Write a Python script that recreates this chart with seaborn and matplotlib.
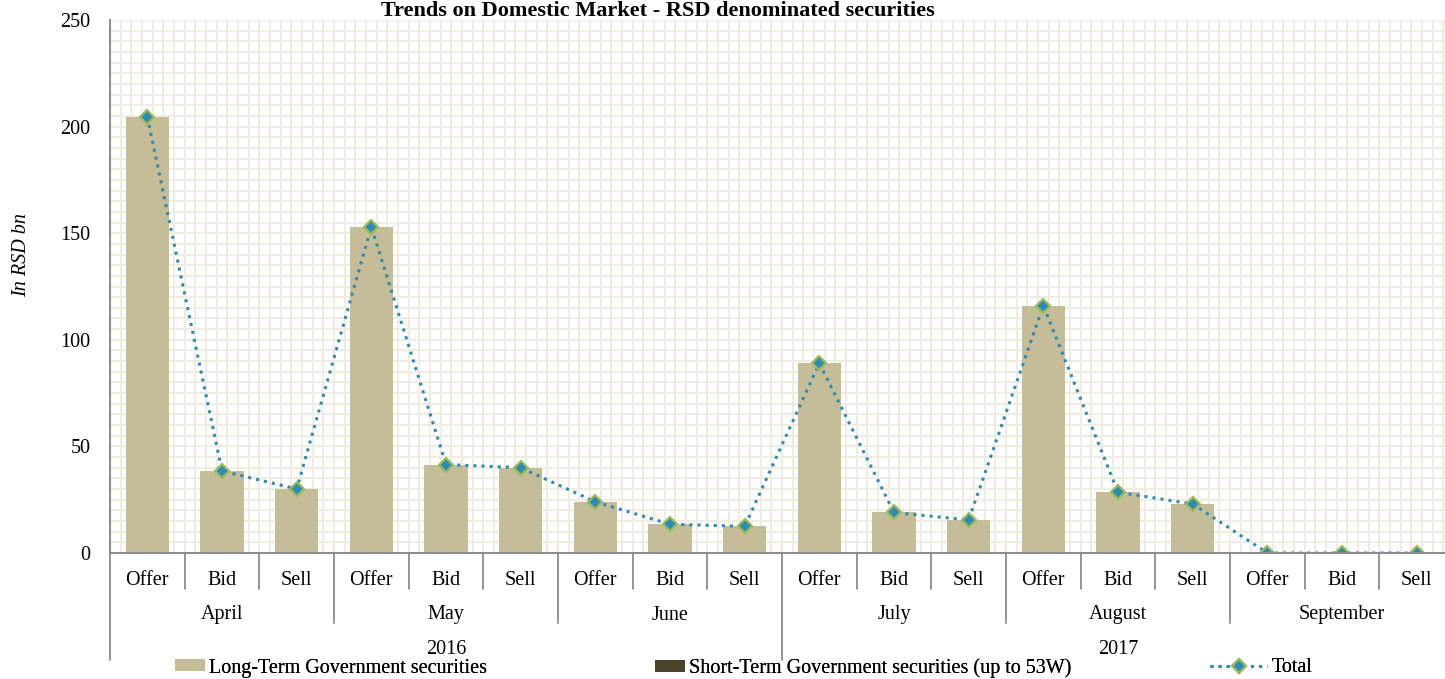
import numpy as np
import pandas as pd
import matplotlib
matplotlib.use("Agg")
import matplotlib.pyplot as plt
import matplotlib.transforms as mtransforms
from matplotlib.ticker import MultipleLocator, FixedLocator
from matplotlib.patches import Patch
from matplotlib.lines import Line2D
import seaborn as sns

# ---------------- data ----------------
years = ["2016", "2016", "2016", "2017", "2017", "2017"]
months = ["April", "May", "June", "July", "August", "September"]
kinds = ["Offer", "Bid", "Sell"]
long_term = [204.5, 38.5, 30.0,
             153.0, 41.5, 40.0,
             24.0, 13.5, 12.5,
             89.0, 19.0, 15.5,
             116.0, 28.5, 23.0,
             0.0, 0.0, 0.0]
short_term = [0.0] * 18
total = [204.5, 38.5, 30.0,
         153.0, 41.5, 40.0,
         24.0, 13.5, 12.5,
         89.0, 19.0, 15.5,
         116.0, 28.5, 23.0,
         0.0, 0.0, 0.0]
title = "Trends on Domestic Market - RSD denominated securities"
ylabel = "In RSD bn"
legend_labels = ["Long-Term Government securities",
                 "Short-Term Government securities (up to 53W)",
                 "Total"]

slot_month = [m for m in months for _ in kinds]
slot_year = [y for y in years for _ in kinds]
slot_kind = kinds * len(months)
slots = [f"{m} {k}" for m, k in zip(slot_month, slot_kind)]
df = pd.DataFrame({
    "slot": slots, "month": slot_month, "year": slot_year, "kind": slot_kind,
    "long": long_term, "short": short_term, "total": total,
})
df["pos"] = np.arange(len(df))

# ---------------- style ----------------
sns.set_theme(style="white")
plt.rcParams["font.family"] = ["Liberation Serif", "DejaVu Serif"]
plt.rcParams["font.size"] = 14.5
plt.rcParams["text.color"] = "black"
plt.rcParams["xtick.color"] = "black"
plt.rcParams["ytick.color"] = "black"
plt.rcParams["axes.labelcolor"] = "black"

FS = 14.5
BAR = "#C4BD97"
DARK = "#4A452A"
LINE = "#2E8BB3"
EDGE = "#9BBB59"
GRID = "#EFEDE3"
AXC = "#8C8C8C"

W, H = 1445, 679
fig = plt.figure(figsize=(W / 100, H / 100), dpi=100)
ax_l, ax_r, ax_t, ax_b = 110, 1454, 20, 553
ax = fig.add_axes([ax_l / W, 1 - ax_b / H, (ax_r - ax_l) / W, (ax_b - ax_t) / H])

sns.barplot(data=df, x="slot", y="long", order=slots, color=BAR, saturation=1,
            width=0.58, linewidth=0, ax=ax, label=legend_labels[0], zorder=2)
sns.barplot(data=df, x="slot", y="short", order=slots, color=DARK, saturation=1,
            width=0.58, linewidth=0, ax=ax, label=legend_labels[1], zorder=2)
sns.lineplot(data=df, x="pos", y="total", ax=ax, color=LINE, linestyle=":",
             linewidth=2.2, marker="D", markersize=7, markerfacecolor=LINE,
             markeredgecolor=EDGE, markeredgewidth=1.6, label=legend_labels[2],
             zorder=4)
if ax.get_legend():
    ax.get_legend().remove()

n = len(slots)
ax.set_xlim(-0.5, n - 0.5)
ax.set_ylim(0, 250)

# grid pattern
ax.set_axisbelow(True)
ax.yaxis.set_major_locator(MultipleLocator(50))
ax.yaxis.set_minor_locator(MultipleLocator(5))
ax.xaxis.set_minor_locator(FixedLocator(-0.5 + np.arange(n * 7 + 1) / 7))
ax.grid(True, which="both", axis="y", color=GRID, linewidth=1.6)
ax.grid(True, which="minor", axis="x", color=GRID, linewidth=1.6)
ax.grid(False, which="major", axis="x")
ax.tick_params(which="minor", length=0)

for s in ["top", "right"]:
    ax.spines[s].set_visible(False)
for s in ["left", "bottom"]:
    ax.spines[s].set_color(AXC)
    ax.spines[s].set_linewidth(1.4)
    ax.spines[s].set_zorder(5)

ax.set_xticks(np.arange(n))
ax.set_xticklabels(slot_kind, fontsize=FS)
ax.tick_params(axis="x", which="major", length=4, width=1.2, color=AXC,
               labelcolor="black", direction="out", pad=9)
ax.tick_params(axis="y", which="major", length=4, width=1.2, color=AXC,
               labelcolor="black", direction="out", pad=10, labelsize=FS)
ax.set_xlabel("")
ax.set_ylabel(ylabel, fontsize=FS, fontstyle="italic", color="black")
ax.yaxis.set_label_coords((31 - ax_l) / (ax_r - ax_l), (ax_b - 255) / (ax_b - ax_t))

# multi-level category axis
trans = mtransforms.blended_transform_factory(ax.transData, ax.transAxes)
hpx = ax_b - ax_t
y_kind = -(589 - ax_b) / hpx
y_month = -(623 - ax_b) / hpx
y_year = -(660 - ax_b) / hpx
for b in range(n + 1):
    if b in (0, n) or (0 < b < n and slot_year[b] != slot_year[b - 1]):
        yb = y_year
    elif b % 3 == 0:
        yb = y_month
    else:
        yb = y_kind
    ax.plot([b - 0.5, b - 0.5], [0, yb], transform=trans, color=AXC,
            linewidth=1.3, clip_on=False, zorder=5)

for i, m in enumerate(months):
    ax.text(i * 3 + 1, -(615 - ax_b) / hpx, m, transform=trans, ha="center",
            va="center", fontsize=FS, color="black")
uyears = list(dict.fromkeys(years))
for yv in uyears:
    idx = [i for i, y in enumerate(slot_year) if y == yv]
    ax.text((idx[0] + idx[-1]) / 2, -(649 - ax_b) / hpx, yv, transform=trans,
            ha="center", va="center", fontsize=FS, color="black")

# title
fig.text(658 / W, 1 - 16 / H, title, ha="center", va="baseline",
         fontsize=16, fontweight="bold", color="black")

# legend entries
h1 = Patch(facecolor=BAR, edgecolor="none")
h2 = Patch(facecolor=DARK, edgecolor="none")
h3 = Line2D([], [], color=LINE, linestyle=":", linewidth=2.2, marker="D",
            markersize=7, markerfacecolor=LINE, markeredgecolor=EDGE,
            markeredgewidth=1.6)
ly = 1 - 668 / H
for h, lab, x0, hl in [(h1, legend_labels[0], 175, 1.5),
                       (h2, legend_labels[1], 655, 1.5),
                       (h3, legend_labels[2], 1210, 2.85)]:
    lg = fig.legend([h], [lab], loc="center left", bbox_to_anchor=(x0 / W, ly),
                    frameon=False, fontsize=FS, handlelength=hl,
                    handleheight=0.55, handletextpad=0.2, borderpad=0,
                    borderaxespad=0, labelcolor="black")
    fig.add_artist(lg)

fig.savefig("out.png", dpi=100, facecolor="white")
